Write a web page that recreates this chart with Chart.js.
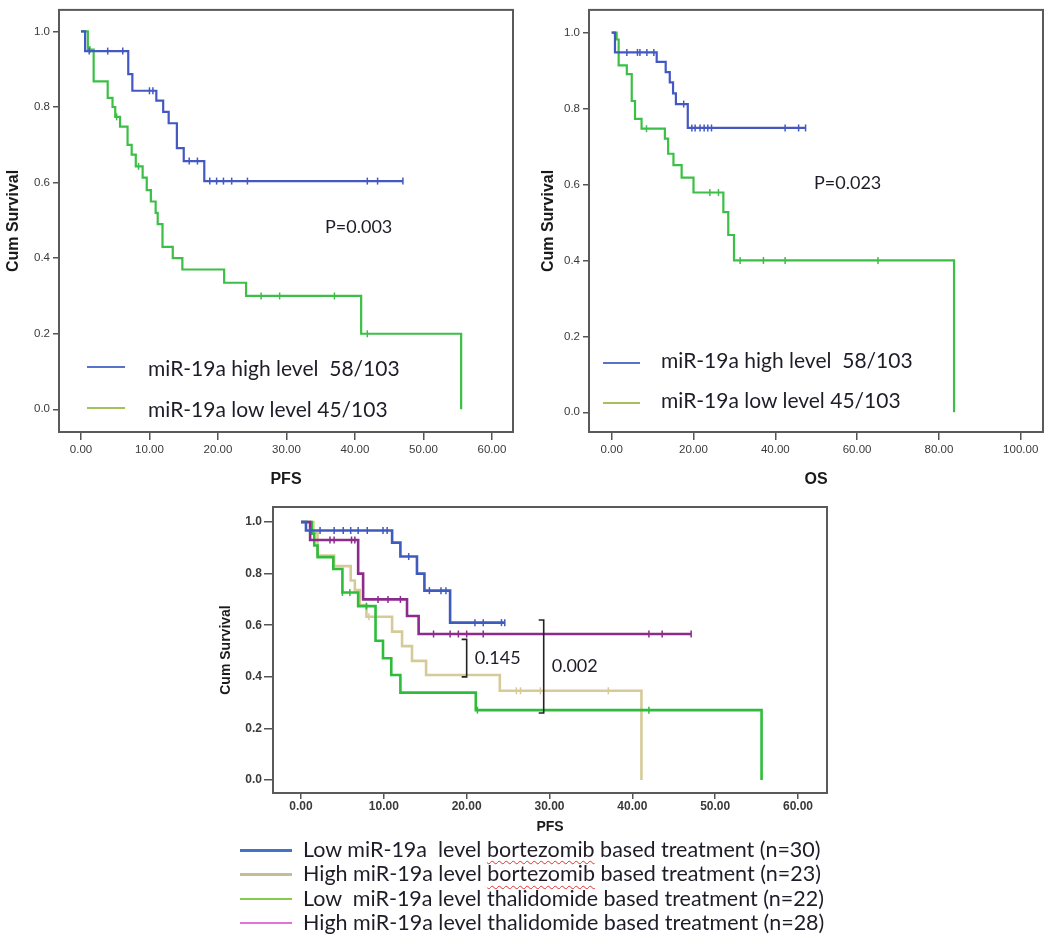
<!DOCTYPE html>
<html>
<head>
<meta charset="utf-8">
<script src="https://cdn.jsdelivr.net/npm/chart.js@4.4.1/dist/chart.umd.min.js"></script>
<style>
  body { margin: 0; background: #fff; width: 1050px; height: 940px; position: relative; overflow: hidden; }
  canvas { position: absolute; }
  .txt { position: absolute; color: #1f1c28; white-space: pre; line-height: 1; font-family: Lato, "Open Sans", sans-serif; transform: translateY(-50%); }
  .key { position: absolute; height: 2px; }
  .spell { text-decoration: underline wavy #e03030; text-decoration-thickness: 1px; text-underline-offset: 3px; }
</style>
</head>
<body>
<canvas id="pfsChart" width="525" height="492" style="left:0;top:0"></canvas>
<canvas id="osChart" width="525" height="492" style="left:525px;top:0"></canvas>
<canvas id="txChart" width="630" height="348" style="left:210px;top:490px"></canvas>

<!-- legends / p values inside the top plots -->
<div class="key" style="left:87px;top:366px;width:38px;background:#5672c9"></div>
<div class="txt" style="left:148px;top:367px;font-size:21px">miR-19a high level  58/103</div>
<div class="key" style="left:87px;top:407px;width:38px;background:#a3c35a"></div>
<div class="txt" style="left:148px;top:408px;font-size:21px">miR-19a low level 45/103</div>
<div class="txt" style="left:325px;top:226px;font-size:18px">P=0.003</div>

<div class="key" style="left:603px;top:362px;width:37px;background:#5672c9"></div>
<div class="txt" style="left:661px;top:359px;font-size:21px">miR-19a high level  58/103</div>
<div class="key" style="left:603px;top:402px;width:37px;background:#a3c35a"></div>
<div class="txt" style="left:661px;top:399px;font-size:21px">miR-19a low level 45/103</div>
<div class="txt" style="left:814px;top:182px;font-size:18px">P=0.023</div>

<div id="txLegend"></div>

<script>
// ---- tick labels ----
const pfsTicks = [0, 10, 20, 30, 40, 50, 60];
const osTicks = [0, 20, 40, 60, 80, 100];
const survTicks = [0, 0.2, 0.4, 0.6, 0.8, 1.0];

// ---- PFS, all patients (top left) ----
const pfsHighTimes = [0.6, 6.9, 7.5, 11.0, 12.0, 12.8, 14.0, 15.0, 18.0];
const pfsHighSurv = [0.948, 0.887, 0.843, 0.817, 0.787, 0.757, 0.691, 0.657, 0.604];
const pfsHighCensor = [1.2, 3.9, 6.1, 10.0, 10.5, 15.8, 17.0, 18.8, 19.8, 20.8, 22.0, 24.3, 41.8, 43.3, 47.0];
const pfsLowTimes = [1.0, 1.85, 3.9, 4.6, 5.0, 5.7, 6.8, 7.4, 8.0, 9.0, 9.6, 10.2, 10.9, 11.2, 11.9, 13.4, 14.8, 20.9, 24.1, 40.9, 55.5];
const pfsLowSurv = [0.952, 0.868, 0.824, 0.80, 0.774, 0.748, 0.70, 0.674, 0.643, 0.613, 0.58, 0.55, 0.52, 0.49, 0.43, 0.40, 0.37, 0.335, 0.30, 0.20, 0.0];
const pfsLowCensor = [1.3, 5.2, 8.4, 26.3, 29.0, 37.0, 41.8];

// ---- OS, all patients (top right) ----
const osHighTimes = [0.8, 11.0, 13.2, 14.2, 15.0, 15.7, 18.6];
const osHighSurv = [0.948, 0.923, 0.896, 0.869, 0.84, 0.812, 0.749];
const osHighCensor = [3.7, 6.3, 6.9, 8.6, 10.3, 17.6, 19.6, 20.4, 21.6, 22.6, 23.5, 24.4, 42.4, 45.7, 47.4];
const osLowTimes = [1.2, 1.7, 3.7, 4.9, 5.7, 7.3, 13.0, 13.8, 15.1, 17.1, 20.0, 27.3, 28.5, 29.9, 83.7];
const osLowSurv = [0.982, 0.914, 0.891, 0.82, 0.773, 0.747, 0.721, 0.681, 0.651, 0.618, 0.579, 0.527, 0.467, 0.40, 0.0];
const osLowCensor = [8.5, 24.0, 26.1, 31.4, 37.1, 42.4, 65.1];

// ---- PFS by treatment (bottom) ----
const lowBortTimes = [0.6, 11.0, 12.0, 14.0, 14.9, 18.0];
const lowBortSurv = [0.967, 0.92, 0.866, 0.80, 0.734, 0.61];
const lowBortCensor = [1.1, 2.3, 4.0, 5.1, 6.0, 6.9, 8.0, 9.9, 10.4, 13.0, 15.5, 16.9, 17.5, 21.0, 22.0, 24.2, 24.6];
const highBortTimes = [1.5, 2.0, 4.0, 6.0, 6.5, 7.1, 7.9, 11.0, 12.2, 13.4, 15.1, 24.0, 41.1];
const highBortSurv = [0.957, 0.87, 0.829, 0.773, 0.736, 0.678, 0.633, 0.575, 0.519, 0.462, 0.407, 0.346, 0.0];
const highBortCensor = [8.2, 26.0, 26.5, 28.9, 37.1];
const lowThalTimes = [1.3, 1.6, 2.0, 3.9, 5.0, 6.9, 9.0, 9.9, 10.9, 12.0, 21.1, 55.6];
const lowThalSurv = [0.955, 0.909, 0.864, 0.818, 0.727, 0.674, 0.54, 0.472, 0.407, 0.339, 0.271, 0.0];
const lowThalCensor = [5.0, 5.9, 7.9, 21.3, 42.0];
const highThalTimes = [1.1, 6.9, 7.5, 12.8, 14.2];
const highThalSurv = [0.93, 0.80, 0.70, 0.636, 0.566];
const highThalCensor = [3.5, 4.0, 6.1, 6.5, 9.3, 10.5, 12.0, 16.0, 18.0, 19.0, 20.0, 22.0, 42.0, 43.6, 47.1];

const txLabels = [
  ['Low miR-19a  level ', 'bortezomib', ' based treatment (n=30)'],
  ['High miR-19a level ', 'bortezomib', ' based treatment (n=23)'],
  ['Low  miR-19a level thalidomide based treatment (n=22)'],
  ['High miR-19a level thalidomide based treatment (n=28)']
];
const txKeyColors = ['#4472c4', '#c4bd97', '#84cc4c', '#e372da'];

// p-value brackets on the bottom plot (x, from, to, label)
const brackets = [
  { x: 20.0, y0: 0.40, y1: 0.545, label: '0.145' },
  { x: 29.3, y0: 0.26, y1: 0.62, label: '0.002' }
];

Chart.defaults.font.family = '"Liberation Sans", Arial, sans-serif';
Chart.defaults.animation = false;

function levelAt(times, surv, t) {
  let s = 1;
  times.forEach((tt, i) => { if (tt <= t) s = surv[i]; });
  return s;
}

function kmSets(times, surv, censor, color, lw) {
  const pts = [{ x: 0, y: 1 }];
  times.forEach((t, i) => pts.push({ x: t, y: surv[i] }));
  const last = Math.max(...censor);
  if (last > times[times.length - 1]) pts.push({ x: last, y: surv[surv.length - 1] });
  return [
    { data: pts, showLine: true, stepped: 'before', borderColor: color, borderWidth: lw, pointRadius: 0 },
    { data: censor.map(t => ({ x: t, y: levelAt(times, surv, t) })), showLine: false,
      pointStyle: 'line', rotation: 90, pointRadius: 3.5, borderColor: color, borderWidth: 1.5 }
  ];
}

function scales(o) {
  return {
    x: {
      type: 'linear', min: o.xMin, max: o.xMax,
      afterBuildTicks: s => { s.ticks = o.xTicks.map(v => ({ value: v })); },
      afterFit: s => { s.height = o.xH; },
      ticks: { callback: v => v.toFixed(2), color: '#3a3a3a', padding: o.xPad, maxRotation: 0, autoSkip: false,
               font: { size: o.tickSize, weight: o.tickWeight } },
      grid: { drawOnChartArea: false, tickLength: o.xTickLen, color: '#555', lineWidth: 1.5 },
      border: { display: false },
      title: { display: true, text: o.xTitle, color: '#1a1a1a', font: { size: o.xTitleSize, weight: 'bold' },
               padding: { top: 0, bottom: o.xTitlePad } }
    },
    y: {
      type: 'linear', min: o.yMin, max: o.yMax,
      afterBuildTicks: s => { s.ticks = survTicks.map(v => ({ value: v })); },
      afterFit: s => { s.width = o.yW; },
      ticks: { callback: v => v.toFixed(1), color: '#3a3a3a', padding: o.yPad,
               font: { size: o.tickSize, weight: o.tickWeight } },
      grid: { drawOnChartArea: false, tickLength: o.yTickLen, color: '#555', lineWidth: 1.5 },
      border: { display: false },
      title: { display: true, text: 'Cum Survival', color: '#1a1a1a', font: { size: o.yTitleSize, weight: 'bold' },
               padding: { top: o.yTitlePad, bottom: 0 } }
    }
  };
}

const frame = {
  id: 'frame',
  afterDraw(chart) {
    const { ctx, chartArea: a } = chart;
    ctx.save();
    ctx.strokeStyle = '#5a5a5a';
    ctx.lineWidth = 2;
    ctx.strokeRect(a.left, a.top, a.right - a.left, a.bottom - a.top);
    ctx.restore();
  }
};

const bracketPlugin = {
  id: 'brackets',
  afterDatasetsDraw(chart) {
    const { ctx, scales: { x, y } } = chart;
    ctx.save();
    ctx.strokeStyle = '#222';
    ctx.lineWidth = 1.6;
    ctx.fillStyle = '#1f1c28';
    ctx.font = '18px Lato, "Open Sans", sans-serif';
    ctx.textBaseline = 'middle';
    brackets.forEach(b => {
      const px = x.getPixelForValue(b.x);
      const top = y.getPixelForValue(b.y1), bot = y.getPixelForValue(b.y0);
      ctx.beginPath();
      ctx.moveTo(px - 5, top); ctx.lineTo(px, top); ctx.lineTo(px, bot); ctx.lineTo(px - 5, bot);
      ctx.stroke();
      ctx.fillText(b.label, px + 8, (top + bot) / 2);
    });
    ctx.restore();
  }
};

const base = { responsive: false, plugins: { legend: { display: false }, tooltip: { enabled: false } } };

new Chart(document.getElementById('pfsChart'), {
  type: 'scatter',
  data: { datasets: [
    ...kmSets(pfsHighTimes, pfsHighSurv, pfsHighCensor, '#4358c2', 2.2),
    ...kmSets(pfsLowTimes, pfsLowSurv, pfsLowCensor, '#3cbf46', 2.2)
  ] },
  options: { ...base,
    layout: { padding: { top: 4, right: 12, left: 0, bottom: 0 } },
    scales: scales({ xMin: -3.21, xMax: 63.07, yMin: -0.06, yMax: 1.057, xTicks: pfsTicks,
      xH: 60, yW: 59, xPad: 3, yPad: 3, xTickLen: 8, yTickLen: 6, tickSize: 11.5, tickWeight: 'normal',
      xTitle: 'PFS', xTitleSize: 16, xTitlePad: 3, yTitleSize: 16, yTitlePad: 4 })
  },
  plugins: [frame]
});

new Chart(document.getElementById('osChart'), {
  type: 'scatter',
  data: { datasets: [
    ...kmSets(osHighTimes, osHighSurv, osHighCensor, '#4358c2', 2.2),
    ...kmSets(osLowTimes, osLowSurv, osLowCensor, '#3cbf46', 2.2)
  ] },
  options: { ...base,
    layout: { padding: { top: 7, right: 7, left: 0, bottom: 0 } },
    scales: scales({ xMin: -5.55, xMax: 105.45, yMin: -0.052, yMax: 1.06, xTicks: osTicks,
      xH: 60, yW: 64, xPad: 3, yPad: 3, xTickLen: 8, yTickLen: 6, tickSize: 11.5, tickWeight: 'normal',
      xTitle: 'OS', xTitleSize: 16, xTitlePad: 3, yTitleSize: 16, yTitlePad: 14 })
  },
  plugins: [frame]
});

new Chart(document.getElementById('txChart'), {
  type: 'scatter',
  data: { datasets: [
    ...kmSets(lowBortTimes, lowBortSurv, lowBortCensor, '#3e5bbd', 2.6),
    ...kmSets(highThalTimes, highThalSurv, highThalCensor, '#8c2b8c', 2.6),
    ...kmSets(lowThalTimes, lowThalSurv, lowThalCensor, '#2ebd3b', 2.6),
    ...kmSets(highBortTimes, highBortSurv, highBortCensor, '#d6cb98', 2.6)
  ] },
  options: { ...base,
    layout: { padding: { top: 17, right: 13, left: 0, bottom: 0 } },
    scales: scales({ xMin: -3.38, xMax: 63.5, yMin: -0.05, yMax: 1.058, xTicks: pfsTicks,
      xH: 45, yW: 63, xPad: 0, yPad: 2, xTickLen: 6, yTickLen: 9, tickSize: 12, tickWeight: 'bold',
      xTitle: 'PFS', xTitleSize: 14, xTitlePad: 2, yTitleSize: 14, yTitlePad: 8 })
  },
  plugins: [frame, bracketPlugin]
});

// legend under the bottom plot
const leg = document.getElementById('txLegend');
txLabels.forEach((parts, i) => {
  const yc = 850 + i * 24.3;
  const key = document.createElement('div');
  key.className = 'key';
  key.style.cssText = `left:240px;top:${yc - 1}px;width:52px;height:2.5px;background:${txKeyColors[i]}`;
  leg.appendChild(key);
  const t = document.createElement('div');
  t.className = 'txt';
  t.style.cssText = `left:303px;top:${yc}px;font-size:21.5px`;
  parts.forEach((p, j) => {
    const s = document.createElement('span');
    s.textContent = p;
    if (parts.length === 3 && j === 1) s.className = 'spell';
    t.appendChild(s);
  });
  leg.appendChild(t);
});
</script>
</body>
</html>
